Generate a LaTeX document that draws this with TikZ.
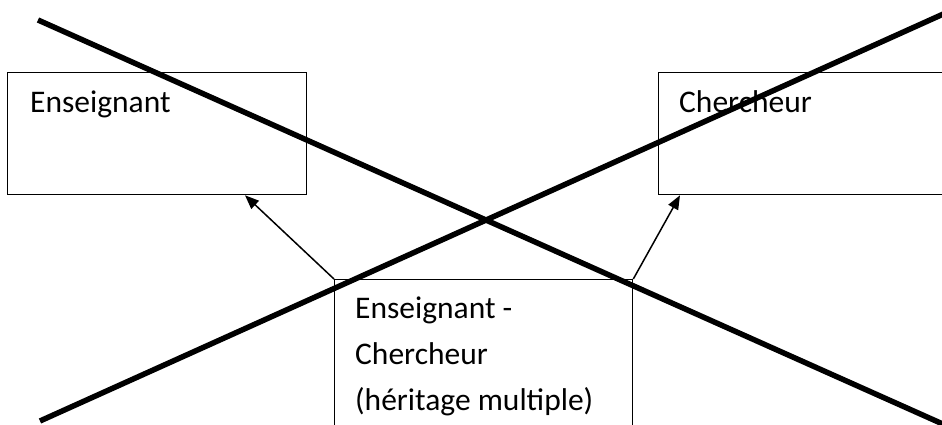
\documentclass[tikz,border=0pt]{standalone}
\usepackage{fontspec}
\setmainfont{Carlito}
\usetikzlibrary{arrows.meta,calc}
\tikzset{
  classbox/.style={draw=black, line width=1.3pt, anchor=north west, inner sep=0pt},
  label/.style={anchor=base west, inner sep=0pt, font=\fontsize{31.5}{46}\selectfont},
  inherit/.style={draw=black, line width=1.5pt, -{Triangle[length=14pt,width=11pt]}},
  cross/.style={draw=black, line width=5.5pt}
}
\begin{document}
\begin{tikzpicture}[x=1pt,y=-1pt]
\useasboundingbox (0,0) rectangle (942,425);
\clip (0,0) rectangle (942,425);
\fill[white] (0,0) rectangle (942,425);
% class boxes
\node[classbox, minimum width=299pt, minimum height=122pt] (ens) at (7,72) {};
\node[classbox, minimum width=310pt, minimum height=122pt] (cher) at (658,72) {};
\node[classbox, minimum width=298pt, minimum height=170pt] (mult) at (334,279) {};
% texts
\node[label] (tens) at (30,113) {Enseignant};
\node[label] (tcher) at (679,113) {Chercheur};
\node[label] (tm1) at (355,318) {Enseignant -};
\node[label] (tm2) at (355,364) {Chercheur};
\node[label] (tm3) at (355,410) {(héritage multiple)};
% inheritance arrows
\draw[inherit] (mult.north west) -- ($(ens.south west)+(238,0)$);
\draw[inherit] (mult.north east) -- ($(cher.south west)+(22,0)$);
% big cross
\coordinate (c1a) at (38,20);
\coordinate (c1b) at (945,425);
\coordinate (c2a) at (40,421);
\coordinate (c2b) at (950,11);
\draw[cross] (c1a) -- (c1b);
\draw[cross] (c2a) -- (c2b);
\end{tikzpicture}
\end{document}
